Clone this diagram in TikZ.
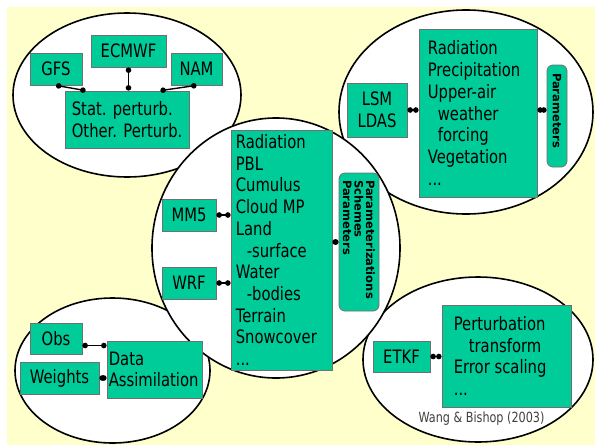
\documentclass[tikz,border=0pt]{standalone}
\usepackage{fontspec}
\setmainfont{DejaVu Sans}
\newfontfamily\boxfamily{DejaVu Sans}[FakeStretch=0.8]
\newfontfamily\parfamily{DejaVu Sans}
\usetikzlibrary{arrows.meta}
\definecolor{bgyellow}{HTML}{FFFFCC}
\definecolor{boxgreen}{HTML}{00CC99}
\definecolor{boxgray}{HTML}{707070}
\definecolor{reftext}{HTML}{404040}
\newcommand\bxfont{\boxfamily\fontsize{18.5}{21.7}\selectfont}
\newcommand\pfont{\parfamily\bfseries\fontsize{11.5}{11.5}\selectfont}
\newcommand\wfont{\boxfamily\fontsize{14}{16}\selectfont}
\begin{document}
\begin{tikzpicture}[x=1pt,y=-1pt,
  ell/.style={draw=black, line width=1.6pt, fill=white},
  box/.style={draw=boxgray, line width=0.8pt, fill=boxgreen, inner sep=0pt, font=\bxfont, align=center},
  btext/.style={font=\bxfont, align=left, inner sep=0pt, anchor=west},
  pbox/.style={box, rounded corners=6pt, rotate=-90, align=left, font=\pfont},
  conn/.style={line width=1.4pt, {Circle[length=5.5pt]}-{Circle[length=5.5pt]}}]
\useasboundingbox (0,0) rectangle (595,445);
\fill[bgyellow] (7,7) rectangle (595,445);
% ellipses
\draw[ell] (127,95) ellipse [x radius=114pt, y radius=82pt];
\draw[ell] (466,112) ellipse [x radius=127pt, y radius=102pt];
\draw[ell] (112.5,370.5) ellipse [x radius=97.5pt, y radius=72.5pt];
\draw[ell] (478,359.5) ellipse [x radius=115pt, y radius=82.5pt];
\draw[ell] (276,248) ellipse [x radius=124pt, y radius=130pt];
% top-left group
\node[box, minimum width=52pt, minimum height=32pt] (gfs) at (56,69) {GFS};
\node[box, minimum width=75pt, minimum height=32pt] (ecmwf) at (128.5,51) {ECMWF};
\node[box, minimum width=51pt, minimum height=32pt] (nam) at (196.5,69) {NAM};
\node[box, minimum width=124pt, minimum height=57pt] (stat) at (127,119.5) {};
\node[btext] (statt) at ([xshift=7pt]stat.west) {Stat. perturb.\\Other. Perturb.};
% centre group
\node[box, minimum width=54pt, minimum height=32pt] (mm5) at (189,215) {MM5};
\node[box, minimum width=54pt, minimum height=32pt] (wrf) at (189,283) {WRF};
\node[box, minimum width=101pt, minimum height=240pt] (mid) at (281.5,250) {};
\node[btext] (midt) at ([xshift=5pt]mid.west)
  {Radiation\\PBL\\Cumulus\\Cloud MP\\Land\\\hspace*{11pt}-surface\\Water\\\hspace*{11pt}-bodies\\Terrain\\Snowcover\\...};
\node[pbox, minimum width=138pt, minimum height=40pt, text width=124pt, inner xsep=7pt] (par) at (359,242)
  {Parameterizations\\Schemes\\Parameters};
% top-right group
\node[box, minimum width=60pt, minimum height=54pt] (lsm) at (377,110) {LSM\\LDAS};
\node[box, minimum width=118pt, minimum height=168pt] (tr) at (478,113) {};
\node[btext] (trt) at ([xshift=9pt]tr.west)
  {Radiation\\Precipitation\\Upper-air\\\hspace*{10pt}weather\\\hspace*{10pt}forcing\\Vegetation\\...};
\node[pbox, minimum width=102pt, minimum height=20pt, text width=86pt, inner xsep=8pt] (prm) at (557,116) {Parameters};
% bottom-left group
\node[box, minimum width=52pt, minimum height=31pt] (obs) at (56,338.5) {Obs};
\node[box, minimum width=79pt, minimum height=32pt] (weights) at (59.5,378) {Weights};
\node[box, minimum width=95pt, minimum height=57pt] (da) at (154.5,369.5) {};
\node[btext] (dat) at ([xshift=2pt]da.west) {Data\\Assimilation};
% bottom-right group
\node[box, minimum width=57pt, minimum height=31pt] (etkf) at (401.5,356.5) {ETKF};
\node[box, minimum width=129pt, minimum height=102pt] (et) at (506.5,356) {};
\node[btext] (ett) at ([xshift=12pt]et.west)
  {Perturbation\\\hspace*{15pt}transform\\Error scaling\\...};
\node[font=\wfont, text=reftext, inner sep=0pt] (ref) at (481.5,419) {Wang \& Bishop (2003)};
% connectors
\draw[conn] (gfs.south) -- ([xshift=21pt]stat.north west);
\draw[conn] (ecmwf.south) -- (ecmwf.south |- stat.north);
\draw[conn] (nam.south) -- ([xshift=-29pt]stat.north east);
\draw[conn] (mm5.east) -- (mm5.east -| mid.west);
\draw[conn] (wrf.east) -- (wrf.east -| mid.west);
\draw[conn] (mid.east |- par.south) -- (par.south);
\draw[conn] (lsm.east) -- (lsm.east -| tr.west);
\draw[conn] (tr.east |- lsm.east) -- (prm.south |- lsm.east);
\draw[conn] ([yshift=-7pt]obs.east) -- ([yshift=-7pt]obs.east -| da.west);
\draw[conn] (weights.east) -- (weights.east -| da.west);
\draw[conn] (etkf.east) -- (etkf.east -| et.west);
\end{tikzpicture}
\end{document}
